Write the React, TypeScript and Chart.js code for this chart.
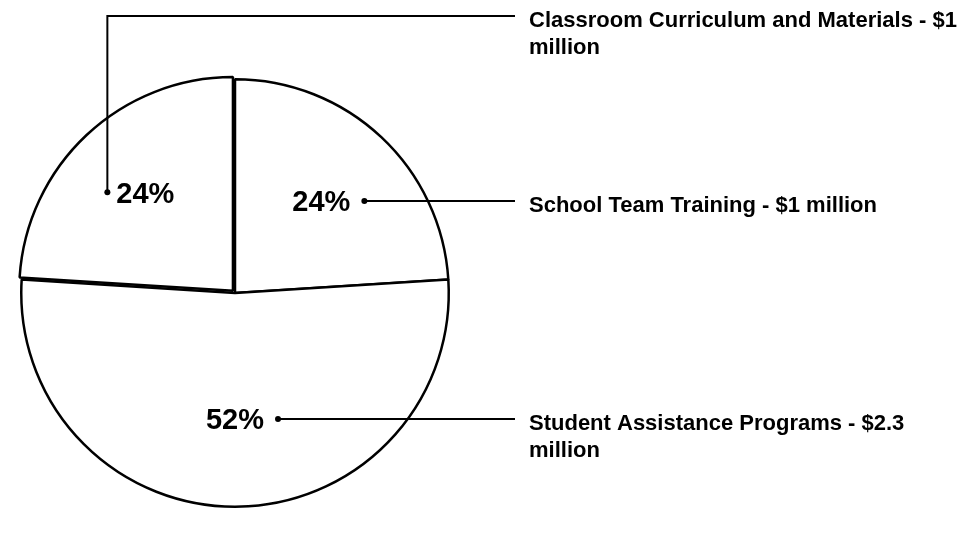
import React, { useEffect, useRef } from "react";
import { Chart, registerables } from "chart.js";

Chart.register(...registerables);

// ---- data ----
const categories = ["School Team Training", "Student Assistance Programs", "Classroom Curriculum and Materials"];
const amounts = ["$1 million", "$2.3 million", "$1 million"];
const percents = [24, 52, 24];
const sliceOffsets = [0, 0, 12];

const W = 971;
const H = 542;
const FONT = '"Liberation Sans", Arial, Helvetica, sans-serif';

function wrap(ctx: CanvasRenderingContext2D, text: string, maxW: number): string[] {
  const words = text.split(" ");
  const lines: string[] = [];
  let cur = "";
  for (const w of words) {
    const t = cur ? cur + " " + w : w;
    if (ctx.measureText(t).width > maxW && cur) {
      lines.push(cur);
      cur = w;
    } else cur = t;
  }
  if (cur) lines.push(cur);
  return lines;
}

const labelPlugin = {
  id: "leaderLabels",
  afterDraw(chart: any) {
    const ctx: CanvasRenderingContext2D = chart.ctx;
    const meta = chart.getDatasetMeta(0);
    const colLineEnd = 515;
    const colText = 529;
    const topY = 16;
    ctx.save();
    meta.data.forEach((arc: any, i: number) => {
      const p = arc.getProps(["x", "y", "startAngle", "endAngle", "outerRadius"], true);
      const mid = (p.startAngle + p.endAngle) / 2;
      const off = sliceOffsets[i];
      const cx = p.x + Math.cos(mid) * off * 0.4;
      const cy = p.y + Math.sin(mid) * off;
      const lx = cx + Math.cos(mid) * p.outerRadius * 0.59;
      const ly = cy + Math.sin(mid) * p.outerRadius * 0.59;

      // percentage
      const pctSize = 29;
      ctx.font = `bold ${pctSize}px ${FONT}`;
      ctx.fillStyle = "#000";
      ctx.textAlign = "center";
      ctx.textBaseline = "alphabetic";
      const pct = percents[i] + "%";
      const tw = ctx.measureText(pct).width;
      ctx.fillText(pct, lx, ly + pctSize * 0.358);

      const dotLeft = Math.cos(mid) < -0.3;
      const dx = dotLeft ? lx - tw / 2 - 9 : lx + tw / 2 + 14;
      const dy = ly;
      ctx.beginPath();
      ctx.arc(dx, dy, 3, 0, Math.PI * 2);
      ctx.fill();

      ctx.strokeStyle = "#000";
      ctx.lineWidth = 2;
      ctx.beginPath();
      let leaderY = dy;
      if (dotLeft) {
        leaderY = topY;
        ctx.moveTo(dx, dy);
        ctx.lineTo(dx, topY);
        ctx.lineTo(colLineEnd, topY);
      } else {
        ctx.moveTo(dx, dy);
        ctx.lineTo(colLineEnd, dy);
      }
      ctx.stroke();

      // category text
      const size = 22;
      ctx.font = `bold ${size}px ${FONT}`;
      ctx.textAlign = "left";
      const lines = wrap(ctx, categories[i] + " - " + amounts[i], W - colText - 2);
      lines.forEach((ln, k) => {
        ctx.fillText(ln, colText, leaderY + 3 + size * 0.358 + k * 27);
      });
    });
    ctx.restore();
  },
};

export default function App() {
  const ref = useRef<HTMLCanvasElement | null>(null);
  useEffect(() => {
    if (!ref.current) return;
    const chart = new Chart(ref.current, {
      type: "pie",
      data: {
        labels: categories,
        datasets: [
          {
            data: percents,
            backgroundColor: "#ffffff",
            borderColor: "#000000",
            borderWidth: 2.5,
            offset: sliceOffsets,
          },
        ],
      },
      options: {
        responsive: false,
        animation: false,
        layout: { padding: { left: 14, top: 72, right: 515, bottom: 28 } },
        plugins: {
          legend: { display: false },
          tooltip: { enabled: false },
        },
      },
      plugins: [labelPlugin],
    });
    return () => chart.destroy();
  }, []);
  return (
    <div style={{ position: "fixed", left: 0, top: 0, width: W, height: H, background: "#fff" }}>
      <canvas ref={ref} width={W} height={H} style={{ display: "block" }} />
    </div>
  );
}
